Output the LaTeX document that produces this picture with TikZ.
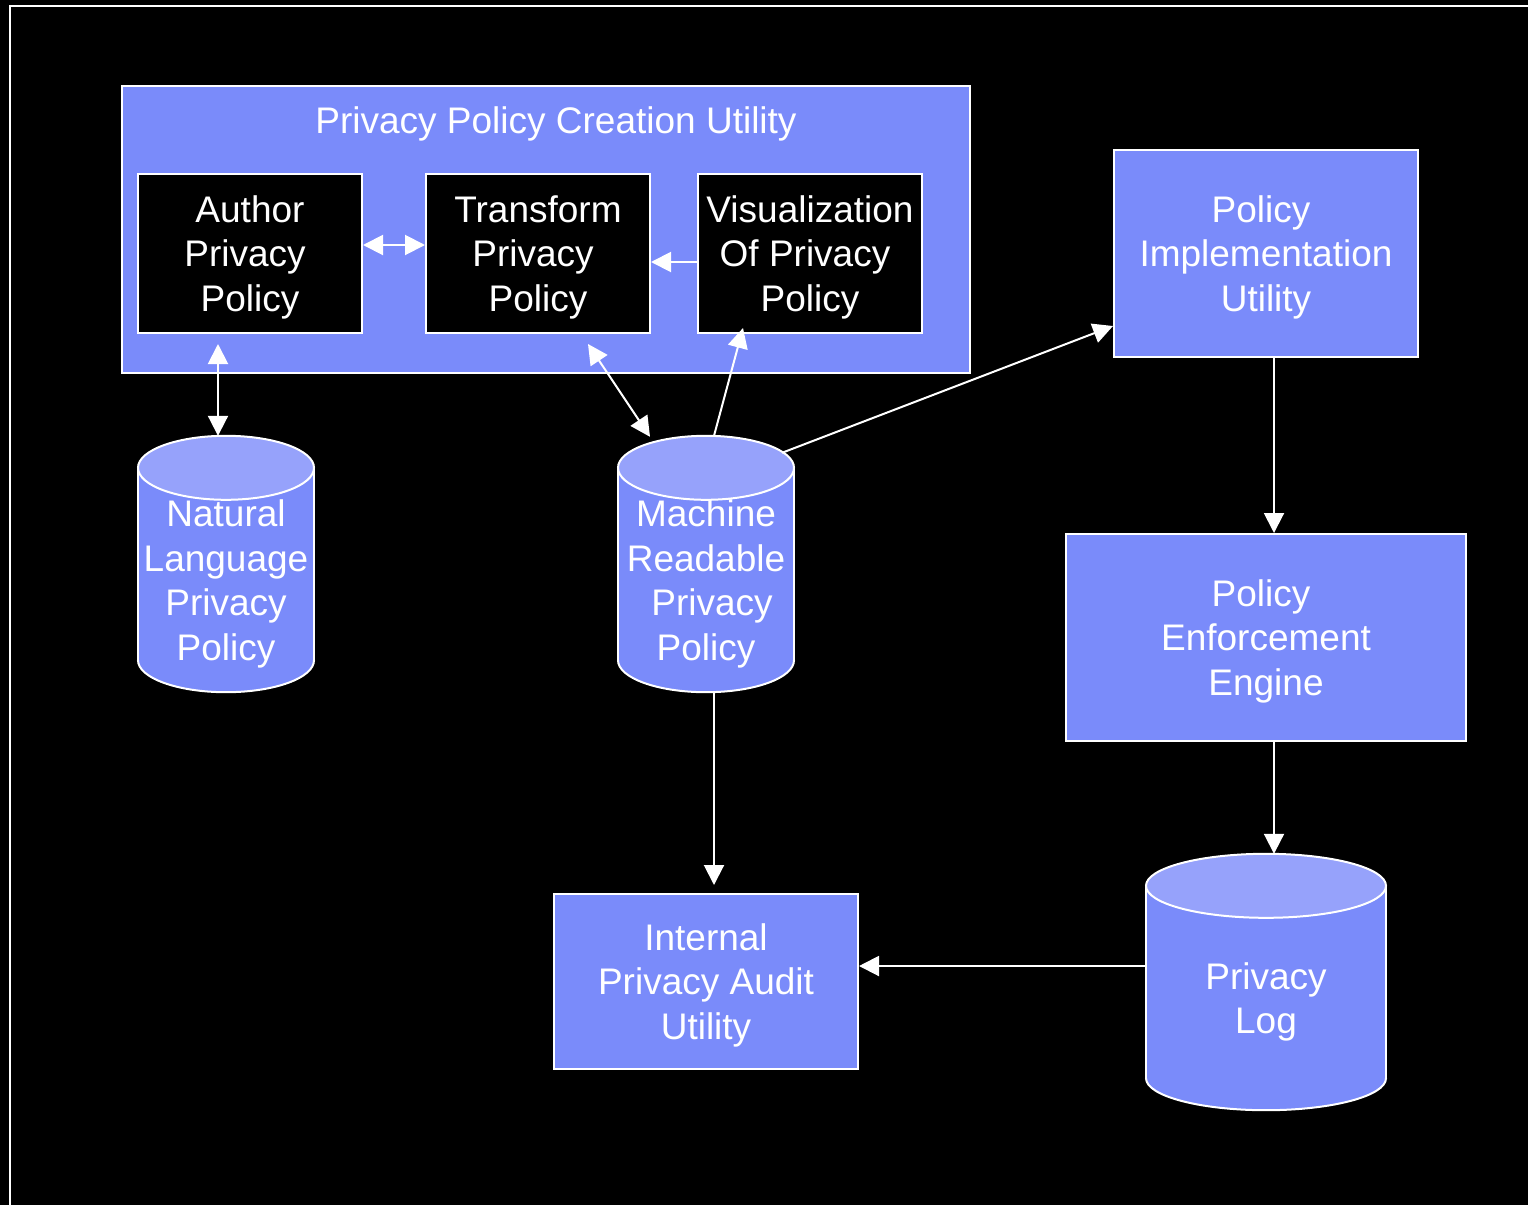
\documentclass[tikz,border=0pt]{standalone}
\usepackage{fontspec}
\setmainfont{Liberation Sans}
\usetikzlibrary{arrows.meta}
\pgfdeclarelayer{back}
\pgfsetlayers{back,main}
\definecolor{boxblue}{RGB}{122,139,250}
\definecolor{topblue}{RGB}{150,162,251}
\tikzset{
  lbl/.style={text=white, font=\fontsize{37}{44.5}\selectfont, align=center},
  boxlbl/.style={lbl, text depth=-1.5pt},
  bluebox/.style={boxlbl, draw=white, line width=2pt, fill=boxblue, inner sep=0pt},
  blackbox/.style={boxlbl, draw=white, line width=2pt, fill=black, inner sep=0pt},
  cylarea/.style={boxlbl, inner sep=0pt, draw=none},
  tip/.tip={Triangle[width=20pt,length=20pt]},
  conn/.style={draw=white, line width=2pt, -tip},
  conntwo/.style={draw=white, line width=2pt, tip-tip},
  cylline/.style={draw=white, line width=2pt}
}
\newcommand{\drawcyl}[2]{%
  \filldraw[cylline, fill=boxblue] ([yshift=32pt]#1.south) ellipse[x radius=#2, y radius=32];
  \fill[boxblue] (#1.north west) rectangle ([yshift=32pt]#1.south east);
  \draw[cylline] (#1.north west) -- ([yshift=32pt]#1.south west)
                 (#1.north east) -- ([yshift=32pt]#1.south east);
  \filldraw[cylline, fill=topblue] (#1.north) ellipse[x radius=#2, y radius=32];
}
\newcommand{\tsp}{\kern10pt}
\begin{document}
\begin{tikzpicture}[x=1pt, y=-1pt]
\useasboundingbox (0,0) rectangle (1528,1205);
% container and boxes
\node[bluebox, minimum width=848pt, minimum height=287pt] (container) at (546,229.5) {};
\node[lbl, anchor=base] (title) at (556,133) {Privacy Policy Creation Utility};
\node[blackbox, minimum width=224pt, minimum height=159pt] (author) at (250,253.5) {Author\\Privacy\tsp\\Policy};
\node[blackbox, minimum width=224pt, minimum height=159pt] (transform) at (538,253.5) {Transform\\Privacy\tsp\\Policy};
\node[blackbox, minimum width=224pt, minimum height=159pt] (vis) at (810,253.5) {Visualization\\Of Privacy\tsp\\Policy};
\node[bluebox, minimum width=304pt, minimum height=207pt] (piu) at (1266,253.5) {Policy\tsp\\Implementation\\Utility};
\node[bluebox, minimum width=400pt, minimum height=207pt] (pee) at (1266,637.5) {Policy\tsp\\Enforcement\\Engine};
\node[bluebox, minimum width=304pt, minimum height=175pt] (audit) at (706,981.5) {Internal\\Privacy Audit\\Utility};
% cylinders (body region below top ellipse centre line)
\node[cylarea, minimum width=176pt, minimum height=224pt] (nlpp) at (226,580) {Natural\\Language\\Privacy\\Policy};
\node[cylarea, minimum width=176pt, minimum height=224pt] (mrpp) at (706,580) {Machine\\Readable\\\kern12pt Privacy\\Policy};
\node[cylarea, minimum width=240pt, minimum height=224pt] (log) at (1266,998) {Privacy\\Log};
\begin{pgfonlayer}{back}
  \fill[black] (0,0) rectangle (1528,1205);
  \draw[white, line width=2pt] (10,1205) -- (10,6) -- (1528,6);
  \drawcyl{nlpp}{88}
  \drawcyl{mrpp}{88}
  \drawcyl{log}{120}
\end{pgfonlayer}
% connectors
\draw[conntwo] ([yshift=8.5pt]author.east) -- ([yshift=8.5pt]transform.west);
\draw[conn] ([yshift=-8.5pt]vis.west) -- ([yshift=-8.5pt]transform.east);
\draw[conntwo] ([xshift=-32pt,yshift=-10pt]author.south) -- ([xshift=-8pt,yshift=32pt]nlpp.north);
\draw[conntwo] ([xshift=50pt,yshift=-10pt]transform.south) -- ([xshift=-56pt,yshift=31pt]mrpp.north);
\draw[conn] ([xshift=8pt,yshift=32pt]mrpp.north) -- ([xshift=-67pt,yshift=6pt]vis.south);
\draw[conn] ([xshift=76pt,yshift=15pt]mrpp.north) -- ([yshift=-72.5pt]piu.west);
\draw[conn] ([xshift=8pt]piu.south) -- ([xshift=8pt]pee.north);
\draw[conn] ([xshift=8pt]pee.south) -- ([xshift=8pt,yshift=32pt]log.north);
\draw[conn] ([yshift=32pt]log.west) -- ([yshift=15.5pt]audit.east);
\draw[conn] ([xshift=8pt]mrpp.south) -- ([xshift=8pt,yshift=8pt]audit.north);
\end{tikzpicture}
\end{document}
